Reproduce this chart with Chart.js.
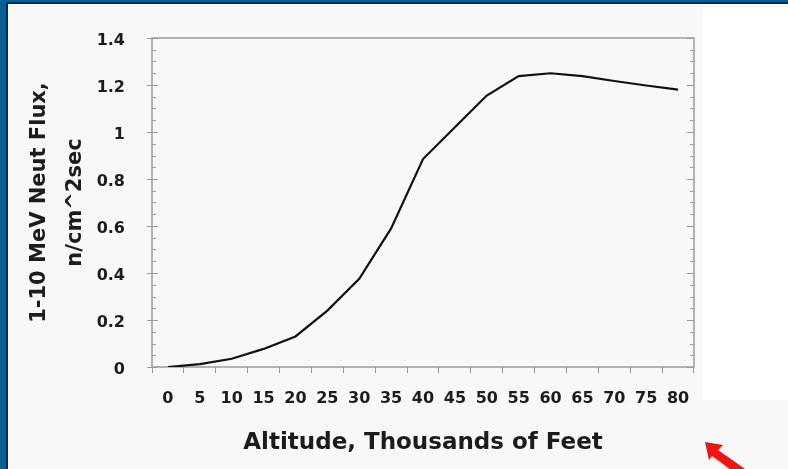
<!DOCTYPE html>
<html>
<head>
<meta charset="utf-8">
<script src="https://cdn.jsdelivr.net/npm/chart.js@4.4.0/dist/chart.umd.min.js"></script>
<style>
  html, body { margin: 0; padding: 0; background: #f8f8f8; }
  #wrap { width: 788px; height: 469px; }
</style>
</head>
<body>
<div id="wrap"><canvas id="myChart" width="788" height="469"></canvas></div>
<script>
// altitude in thousands of feet
const altitude = ['0', '5', '10', '15', '20', '25', '30', '35', '40', '45', '50', '55', '60', '65', '70', '75', '80']
// 1-10 MeV neutron flux, n/cm^2sec
const flux = [0.0, 0.012, 0.035, 0.077, 0.13, 0.24, 0.375, 0.59, 0.885, 1.02, 1.155, 1.238, 1.25, 1.238, 1.217, 1.198, 1.18]
const yTickLabels = ['0', '0.2', '0.4', '0.6', '0.8', '1', '1.2', '1.4']

const ctx = document.getElementById('myChart')
const axisColor = '#9c9c9c'
const textColor = '#1c1c1c'
const fontFamily = "'DejaVu Sans', sans-serif"

// background, blue frame and the little white patch on the right
const framePlugin = {
  id: 'frame',
  beforeDraw(chart) {
    const c = chart.ctx
    const w = chart.width, h = chart.height
    c.save()
    c.fillStyle = '#f8f8f8'
    c.fillRect(0, 0, w, h)
    c.fillStyle = '#ffffff'
    c.fillRect(703, 7, w - 703, 393)
    c.fillStyle = '#0b5f96'
    c.fillRect(0, 0, w, 3)
    c.fillRect(0, 0, 6, h)
    c.fillStyle = '#0a2b45'
    c.fillRect(6, 2, w - 6, 2)
    c.fillRect(6, 2, 2, h)
    c.restore()
  },
  // red arrow in the lower right corner
  afterDraw(chart) {
    const c = chart.ctx
    c.save()
    c.fillStyle = '#f41212'
    c.beginPath()
    c.moveTo(705, 442)
    c.lineTo(723, 445)
    c.lineTo(718, 450)
    c.lineTo(748, 471)
    c.lineTo(742, 478)
    c.lineTo(712, 456)
    c.lineTo(709, 460)
    c.closePath()
    c.fill()
    c.restore()
  }
}

// box round the plot and the y tick marks (major + minor)
const boxPlugin = {
  id: 'box',
  beforeDatasetsDraw(chart) {
    const c = chart.ctx
    const { left, right, top, bottom } = chart.chartArea
    const y = chart.scales.y
    c.save()
    c.strokeStyle = axisColor
    c.lineWidth = 1.5
    c.strokeRect(left, top, right - left, bottom - top)
    c.lineWidth = 1
    c.beginPath()
    for (let i = 0; i <= 28; i++) {
      const py = Math.round(y.getPixelForValue(i * 0.05)) + 0.5
      const major = i % 4 === 0
      c.moveTo(major ? left - 5 : left, py)
      c.lineTo(major ? left + 6 : left + 4, py)
      c.moveTo(major ? right - 7 : right - 4, py)
      c.lineTo(right, py)
    }
    c.stroke()
    c.restore()
  }
}

window.chart = new Chart(ctx, {
  type: 'line',
  data: {
    labels: altitude,
    datasets: [{
      data: flux,
      borderColor: '#111111',
      borderWidth: 2.2,
      pointRadius: 0,
      tension: 0,
      fill: false
    }]
  },
  options: {
    responsive: false,
    animation: false,
    devicePixelRatio: 1,
    layout: { padding: { left: 0, top: 38, right: 94, bottom: 0 } },
    plugins: {
      legend: { display: false },
      tooltip: { enabled: false }
    },
    scales: {
      x: {
        type: 'category',
        offset: true,
        grid: { display: true, offset: true, drawOnChartArea: false, tickLength: 6, color: axisColor },
        border: { display: false },
        ticks: {
          autoSkip: false,
          maxRotation: 0,
          padding: 16,
          color: textColor,
          font: { family: fontFamily, size: 16, weight: 'bold' }
        },
        title: {
          display: true,
          text: 'Altitude, Thousands of Feet',
          color: textColor,
          padding: { top: 0, bottom: 12 },
          font: { family: fontFamily, size: 23, weight: 'bold' }
        },
        afterFit(scale) { scale.height = 102 }
      },
      y: {
        min: 0,
        max: 1.4,
        grid: { display: false },
        border: { display: false },
        ticks: {
          stepSize: 0.2,
          padding: 19,
          labelOffset: 3,
          color: textColor,
          font: { family: fontFamily, size: 16, weight: 'bold' },
          callback: (v, i) => yTickLabels[i]
        },
        title: {
          display: true,
          text: ['1-10 MeV Neut Flux,', 'n/cm^2sec'],
          color: textColor,
          padding: { top: 22, bottom: 0 },
          font: { family: fontFamily, size: 21, weight: 'bold', lineHeight: 1.7 }
        },
        afterFit(scale) { scale.width = 152 }
      }
    }
  },
  plugins: [framePlugin, boxPlugin]
})
</script>
</body>
</html>
